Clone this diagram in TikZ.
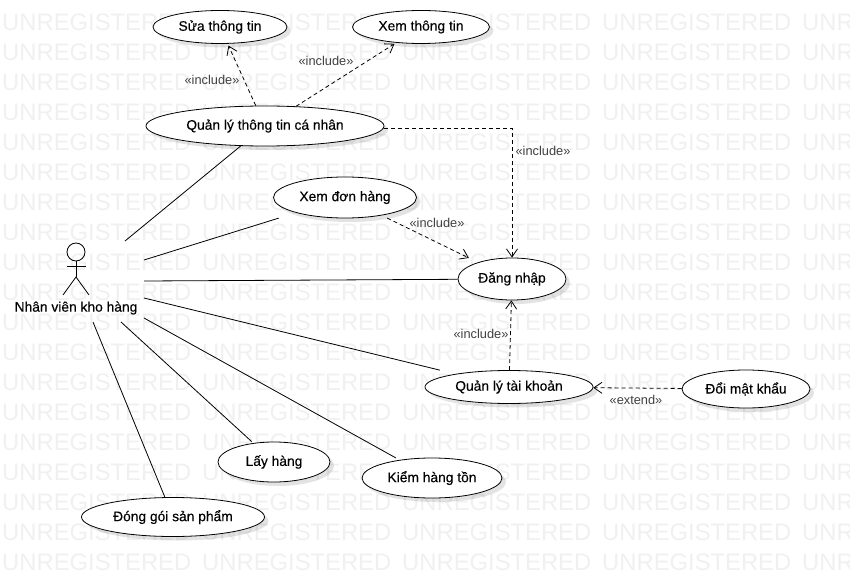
\documentclass[tikz,border=0pt]{standalone}
\usepackage{fontspec}
\setmainfont{Liberation Sans}
\newfontfamily\casefont[FakeBold=0.25]{Liberation Sans}
\usetikzlibrary{shapes, shadows}
\usetikzlibrary{positioning, arrows.meta}

\begin{document}
\begin{tikzpicture}[x=1pt, y=-1pt,
    usecase/.style = {draw, ellipse, fill=white, inner sep=0pt, line width=0.8pt, font=\casefont\fontsize{13.8}{16}\selectfont,
        general shadow={fill=black, opacity=0.11, shadow xshift=4pt, shadow yshift=-4pt}},
    link/.style = {line width=0.8pt},
    dep/.style = {line width=0.8pt, dash pattern=on 4pt off 3pt, -{Straight Barb[length=8pt, width=11pt]}},
    stereo/.style = {font=\fontsize{12.8}{14}\selectfont, text=black!75, inner sep=0pt},
    stamp/.style = {anchor=west, inner sep=0pt, text=black!6, font=\fontsize{23.8}{26}\selectfont}]
    \useasboundingbox (0,0) rectangle (850,577);

    % Background text
    \foreach \row in {0,...,18}
        \foreach \col in {0,...,4}
            \node[stamp] (stamp-\row-\col) at ({2+200*\col},{22+30*\row}) {UNREGISTERED};

    % Nodes
    \node[usecase, minimum width=134pt, minimum height=33pt] (edit) at (220,27) {Sửa thông tin};
    \node[usecase, minimum width=137pt, minimum height=33pt] (view) at (421,27) {Xem thông tin};
    \node[usecase, minimum width=238pt, minimum height=40pt] (profile) at (265,126) {Quản lý thông tin cá nhân};
    \node[usecase, minimum width=143pt, minimum height=41pt] (orders) at (345,197.5) {Xem đơn hàng};
    \node[usecase, minimum width=108pt, minimum height=42pt] (login) at (512,279) {Đăng nhập};
    \node[usecase, minimum width=168pt, minimum height=33pt] (account) at (509,387) {Quản lý tài khoản};
    \node[usecase, minimum width=128pt, minimum height=38pt] (password) at (746,389) {Đổi mật khẩu};
    \node[usecase, minimum width=112pt, minimum height=40pt] (pick) at (274,462) {Lấy hàng};
    \node[usecase, minimum width=140pt, minimum height=40pt] (stock) at (432,478) {Kiểm hàng tồn};
    \node[usecase, minimum width=183pt, minimum height=39pt] (pack) at (173,517) {Đóng gói sản phẩm};

    % Actor
    \node[draw, circle, line width=0.8pt, minimum size=18pt, inner sep=0pt] (head) at (76,252) {};
    \coordinate (hip) at (76,277);
    \coordinate (handL) at (67,266);
    \coordinate (handR) at (86,266);
    \coordinate (footL) at (63,295);
    \coordinate (footR) at (89,295);
    \draw[link] (head) -- (hip);
    \draw[link] (handL) -- (handR);
    \draw[link] (footL) -- (hip) -- (footR);
    \node[font=\casefont\fontsize{13.8}{16}\selectfont, inner sep=0pt] (staff) at (76,308) {Nhân viên kho hàng};

    % Free ends next to the actor
    \coordinate (a1) at (125,241);
    \coordinate (a2) at (144,260);
    \coordinate (a3) at (144,281);
    \coordinate (a4) at (144,298);
    \coordinate (a5) at (144,318);
    \coordinate (a6) at (121,322);
    \coordinate (a7) at (93,322);

    % Lines
    \draw[link] (a1) -- (profile);
    \draw[link, shorten >=18pt] (a2) -- (orders);
    \draw[link] (a3) -- (login);
    \draw[link, shorten >=16pt] (a4) -- (account);
    \draw[link, shorten >=4pt] (a5) -- (stock);
    \draw[link, shorten >=2pt] (a6) -- (pick);
    \draw[link] (a7) -- (pack);

    % Dashed lines
    \draw[dep, shorten >=2pt] (profile) -- (edit);
    \draw[dep, shorten >=2pt] (profile) -- (view);
    \draw[dep] ([yshift=-2pt]profile.east) -| (login);
    \draw[dep, shorten <=6pt, shorten >=10pt] (orders) -- (login);
    \draw[dep] (account) -- (login);
    \draw[dep] (password) -- (account);

    % Labels
    \node[stereo] (inc1) at (212,80) {«include»};
    \node[stereo] (inc2) at (326,61) {«include»};
    \node[stereo] (inc3) at (543,151) {«include»};
    \node[stereo] (inc4) at (437,223) {«include»};
    \node[stereo] (inc5) at (481,334) {«include»};
    \node[stereo] (ext1) at (636,400) {«extend»};
\end{tikzpicture}
\end{document}
